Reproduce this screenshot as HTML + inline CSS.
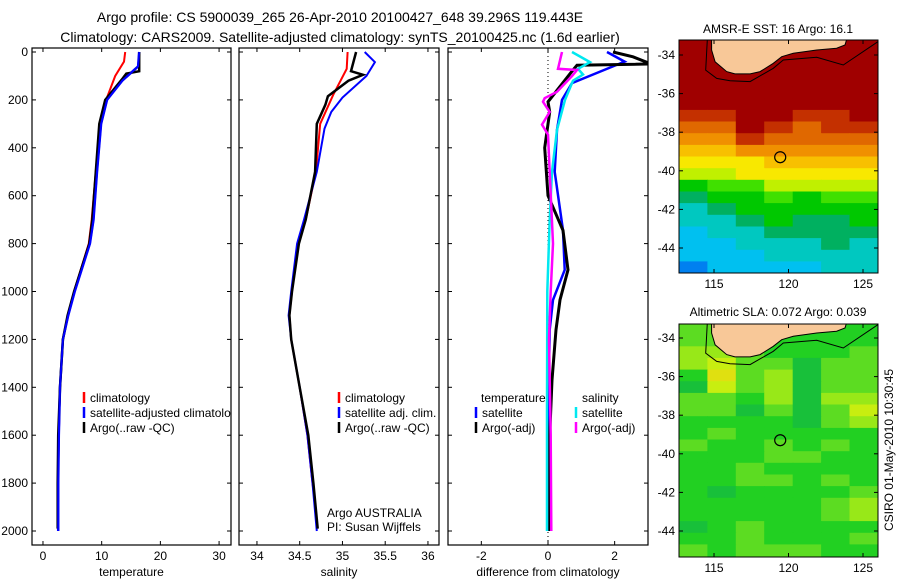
<!DOCTYPE html>
<html><head><meta charset="utf-8"><style>
html,body{margin:0;padding:0;background:#fff;}
svg{display:block;font-family:"Liberation Sans",sans-serif;}
</style></head><body>
<svg id="fig" width="900" height="580" viewBox="0 0 900 580">
<defs>
<clipPath id="c1"><rect x="32" y="48" width="199" height="497"/></clipPath>
<clipPath id="c2"><rect x="239" y="48" width="200" height="497"/></clipPath>
<clipPath id="c3"><rect x="448" y="48" width="200" height="497"/></clipPath>
<clipPath id="cm1"><rect x="679" y="40" width="199" height="233"/></clipPath>
<clipPath id="cm2"><rect x="679" y="324" width="199" height="233"/></clipPath>
</defs>
<text x="340" y="22" font-size="14" text-anchor="middle">Argo profile: CS 5900039_265 26-Apr-2010 20100427_648 39.296S 119.443E</text>
<text x="340" y="42" font-size="14" text-anchor="middle">Climatology: CARS2009. Satellite-adjusted climatology: synTS_20100425.nc (1.6d earlier)</text>
<text x="778" y="33" font-size="12" text-anchor="middle">AMSR-E SST: 16 Argo: 16.1</text>
<text x="778" y="316" font-size="12" text-anchor="middle">Altimetric SLA: 0.072 Argo: 0.039</text>
<text transform="translate(893,450) rotate(-90)" font-size="12" text-anchor="middle">CSIRO 01-May-2010 10:30:45</text>
<g id="g"></g>
</svg>
<script>
// ---------- data ----------
const depthTicks=[0,200,400,600,800,1000,1200,1400,1600,1800,2000];
const tempTicks=[0,10,20,30];
const salTicks=[34,34.5,35,35.5,36];
const salTickLabels=["34","34.5","35","35.5","36"];
const diffTicks=[-2,0,2];
const latTicks=[-34,-36,-38,-40,-42,-44];
const lonTicks=[115,120,125];

const tClimDepth=[0,40,100,190,300,500,700,800,1000,1100,1200,1400,1600,1800,1880];
const tClimVal=[14.0,13.8,12.3,10.9,9.7,9.0,8.3,7.8,5.3,4.3,3.4,2.9,2.7,2.6,2.6];
const tSatDepth=[0,60,80,120,200,300,500,700,800,1000,1100,1200,1400,1600,1800,2000];
const tSatVal=[16.4,16.2,15.3,13.5,10.9,9.9,9.2,8.6,8.0,5.4,4.3,3.4,2.9,2.7,2.6,2.6];
const tArgoDepth=[0,80,90,110,200,300,500,700,800,1000,1100,1200,1400,1600,1800,1990];
const tArgoVal=[16.4,16.4,14.2,13.6,10.6,9.6,9.0,8.4,7.9,5.3,4.2,3.4,2.9,2.6,2.5,2.5];

const sClimDepth=[0,70,180,300,500,700,800,1000,1100,1200,1400,1600,1800,1880];
const sClimVal=[35.06,35.05,34.89,34.74,34.69,34.57,34.48,34.41,34.38,34.40,34.5,34.59,34.65,34.68];
const sSatDepth=[0,42,100,190,250,320,500,700,800,1000,1100,1200,1400,1600,1800,2000];
const sSatVal=[35.26,35.38,35.28,35.0,34.87,34.79,34.70,34.55,34.47,34.40,34.37,34.40,34.5,34.59,34.65,34.70];
const sArgoDepth=[0,80,95,120,185,220,300,500,700,800,1000,1100,1200,1400,1600,1800,1990];
const sArgoVal=[35.16,35.1,35.24,35.07,34.83,34.80,34.70,34.68,34.57,34.49,34.41,34.38,34.40,34.5,34.6,34.66,34.71];

const dTSatDepth=[0,40,130,200,325,500,745,910,1035,1160,1400,1700,2000];
const dTSatVal=[1.77,2.3,0.72,0.42,0.27,0.2,0.45,0.5,0.15,0.05,0.02,0.02,0.02];
const dTArgoDepth=[0,20,50,55,75,208,250,400,600,745,910,1035,1160,1370,1600,2000];
const dTArgoVal=[1.95,2.55,3.1,0.87,0.75,0.0,0.05,-0.1,0.0,0.45,0.6,0.36,0.24,0.12,0.05,0.05];
const dSSatDepth=[0,42,70,94,120,200,325,500,700,1000,1500,2000];
const dSSatVal=[0.72,1.26,0.9,1.05,0.75,0.51,0.27,0.12,0.05,-0.02,-0.03,-0.03];
const dSArgoDepth=[0,70,75,100,166,193,208,250,303,345,500,800,1000,1200,1600,2000];
const dSArgoVal=[0.42,0.3,0.87,0.72,0.27,-0.1,-0.15,0.05,-0.18,0.0,0.05,0.15,0.08,0.03,0.08,0.1];

// SST grid (deg C), 20 rows (north->south) x 7 cols (west->east)
const sstGrid=[
[18,18,18,18,18,18,18],[18,18,18,18,18,18,18],[18,18,18,18,18,18,18],
[17.5,17.5,17.5,17.5,17.5,17.5,17.5],[17.2,17.5,17.5,17.5,17.5,17.5,17.5],
[17,17.2,17.5,17.3,17.2,17.2,17.2],[16.7,16.8,17.2,17.1,16.8,16.9,17],
[16.2,16.4,17,16.9,16.5,16.6,16.6],[15.9,16.1,16.8,16.3,16.2,16.4,16.3],
[15.6,15.7,15.9,15.8,15.9,16,15.9],[15.2,15.3,15.3,15.4,15.6,15.5,15.6],
[14.6,14.8,15,15.2,15.2,15.1,15.2],[14,14.2,14.4,14.8,14.6,14.8,14.7],
[13.6,13.8,14.1,14.2,14.0,14.3,14.5],[13.3,13.5,13.9,13.9,13.8,13.9,14],
[13.0,13.2,13.6,13.8,13.7,13.6,13.8],[12.8,13.0,13.3,13.5,13.5,13.6,13.5],
[12.7,12.8,13.0,13.2,13.3,13.4,13.3],[12.6,12.7,12.8,13.0,13.0,13.1,13.2],
[12.4,12.6,12.7,12.8,12.8,13.0,13.1]];
// SLA grid (class levels)
const slaGrid=[
[1,1,0,0,0,0,0],[1,1,0,0,0,0,0],[2,2,1,0,0,0,1],[2,3,1,1,-1,1,1],
[0,4,1,2,-1,1,1],[-1,3,1,2,-1,1,1],[1,1,0,2,-1,2,2],[1,1,-1,1,-1,1,3],
[0,0,0,0,-1,1,2],[0,1,0,0,0,0,0],[1,0,0,1,0,1,0],[0,0,0,1,1,0,0],
[0,0,1,0,0,0,0],[0,0,1,1,0,1,0],[0,-1,0,0,0,0,1],[0,0,0,0,0,1,2],
[0,0,0,0,0,1,2],[-1,0,1,0,0,0,0],[0,0,1,0,0,0,1],[1,0,1,1,1,0,0]];
const landLon=[114.84,114.84,115.07,115.85,116.41,117.42,118.09,118.98,119.54,120.32,121.89,123.23,123.79,123.9];
const landLat=[-33.2,-33.74,-34.35,-34.86,-34.98,-34.98,-34.86,-34.43,-34.09,-33.91,-33.74,-33.65,-33.48,-33.2];
const shelfLon=[114.55,114.44,115.18,116.07,117.42,118.98,119.65,121.89,123.68,126.0];
const shelfLat=[-33.22,-34.78,-35.21,-35.33,-35.38,-34.69,-34.26,-34.12,-34.52,-33.31];
const argoLon=119.443, argoLat=-39.296;

// ---------- scales ----------
const yD=d=>52+d*0.2395;
const xT=v=>32+(v+1.87)*5.87;
const xS=v=>239+(v-33.79)*85.5;
const xDf=v=>448+(v+3)*33.33;
const LON0=112.65, LON1=126.0, LAT0=-33.22, LAT1=-45.3;
const xLon=l=>679+(l-LON0)*14.9;
const yLat1=l=>55+(-34-l)*19.3;
const yLat2=l=>338+(-34-l)*19.3;

const NS="http://www.w3.org/2000/svg";
const G=document.getElementById('g');
function mk(tag,attrs,parent){const e=document.createElementNS(NS,tag);for(const k in attrs)e.setAttribute(k,attrs[k]);(parent||G).appendChild(e);return e;}
function txt(x,y,s,size,anchor,parent){const e=mk('text',{x:x,y:y,'font-size':size,'text-anchor':anchor||'start'},parent);e.textContent=s;return e;}

function line(xs,ds,xf,color,w,clip,name){
  const p=xs.map((v,i)=>xf(v).toFixed(1)+','+yD(ds[i]).toFixed(1)).join(' ');
  const e=mk('polyline',{points:p,fill:'none',stroke:color,'stroke-width':w,'stroke-linejoin':'miter','clip-path':'url(#'+clip+')'});
  
  
}

function panel(x0,w,ticks,labels,xf,xlabel,name,showDepth){
  const g=mk('g',{});
  
  
  mk('rect',{x:x0,y:48,width:w,height:497,fill:'#fff',stroke:'#000','stroke-width':1.2},g);
  depthTicks.forEach(d=>{
    mk('line',{x1:x0,x2:x0+4,y1:yD(d),y2:yD(d),stroke:'#000'},g);
    mk('line',{x1:x0+w-4,x2:x0+w,y1:yD(d),y2:yD(d),stroke:'#000'},g);
    if(showDepth){const t=txt(x0-4,yD(d)+4,String(d),12,'end',g);
      
      }
  });
  ticks.forEach((v,i)=>{
    const x=xf(v);
    mk('line',{x1:x,x2:x,y1:545,y2:541,stroke:'#000'},g);
    mk('line',{x1:x,x2:x,y1:48,y2:52,stroke:'#000'},g);
    const t=txt(x,560,labels[i],12,'middle',g);
    
    
  });
  const xl=txt(x0+w/2,576,xlabel,12,'middle',g);
  
  
}
panel(32,199,tempTicks,tempTicks.map(String),xT,'temperature','temperature-panel',true);
panel(239,200,salTicks,salTickLabels,xS,'salinity','salinity-panel',false);
panel(448,200,diffTicks,diffTicks.map(String),xDf,'difference from climatology','difference-panel',false);
mk('line',{x1:xDf(0),x2:xDf(0),y1:52,y2:545,stroke:'#000','stroke-dasharray':'1,3'});

line(tClimVal,tClimDepth,xT,'#ff0000',2,'c1','temp-climatology-line');
line(tSatVal,tSatDepth,xT,'#0000ff',2.5,'c1','temp-satellite-line');
line(tArgoVal,tArgoDepth,xT,'#000',2.5,'c1','temp-argo-line');
line(tSatVal,tSatDepth,xT,'#0000ff',2,'c1','temp-satellite-line-top');
line(sClimVal,sClimDepth,xS,'#ff0000',2,'c2','sal-climatology-line');
line(sSatVal,sSatDepth,xS,'#0000ff',2,'c2','sal-satellite-line');
line(sArgoVal,sArgoDepth,xS,'#000',2.5,'c2','sal-argo-line');
line(dTSatVal,dTSatDepth,xDf,'#0000ff',2.5,'c3','diff-temp-satellite-line');
line(dTArgoVal,dTArgoDepth,xDf,'#000',3,'c3','diff-temp-argo-line');
line(dSSatVal,dSSatDepth,xDf,'#00e8f0',2.5,'c3','diff-sal-satellite-line');
line(dSArgoVal,dSArgoDepth,xDf,'#ff00ff',2.5,'c3','diff-sal-argo-line');

function legend(x,y,label,color,clip){
  const g=mk('g',{'clip-path':clip?'url(#'+clip+')':''});
  
  
  if(color) mk('line',{x1:x-6,x2:x-6,y1:y-10,y2:y+1,stroke:color,'stroke-width':2.5},g);
  txt(x,y,label,12,'start',g);
}
legend(90,402,'climatology','#ff0000','c1');
legend(90,417,'satellite-adjusted climatology','#0000ff','c1');
legend(90,432,'Argo(..raw -QC)','#000','c1');
legend(345,402,'climatology','#ff0000','c2');
legend(345,417,'satellite adj. clim.','#0000ff','c2');
legend(345,432,'Argo(..raw -QC)','#000','c2');
legend(481,402,'temperature',null,'c3');
legend(482,417,'satellite','#0000ff','c3');
legend(482,432,'Argo(-adj)','#000','c3');
legend(582,402,'salinity',null,'c3');
legend(582,417,'satellite','#00e8f0','c3');
legend(582,432,'Argo(-adj)','#ff00ff','c3');
const a1=txt(327,517,'Argo AUSTRALIA',12,'start');


const a2=txt(327,531,'PI: Susan Wijffels',12,'start');



// ---------- maps ----------
function sstColor(v){
  const stops=[[17,'#a00000'],[16.6,'#c43000'],[16.2,'#e06800'],[15.8,'#f09000'],[15.4,'#f8c000'],[15.0,'#f8e800'],[14.6,'#c0f000'],[14.2,'#40e000'],[13.8,'#00c800'],[13.4,'#00b060'],[13.0,'#00c8c0'],[12.6,'#00c0f0']];
  for(const s of stops) if(v>=s[0]) return s[1];
  return '#0080f0';
}
const slaColors={'-1':'#18c03a','0':'#22d022','1':'#5cdc22','2':'#98e818','3':'#c8ee10','4':'#e0e010'};
function map(grid,colorFn,yLat,top,clip,name){
  const g=mk('g',{});
  
  
  const cw=(LON1-LON0)/7, rh=(LAT0-LAT1)/20;
  const cells=mk('g',{'clip-path':'url(#'+clip+')'},g);
  grid.forEach((row,r)=>row.forEach((v,c)=>{
    const x=xLon(LON0+c*cw), y=yLat(LAT0-r*rh);
    const e=mk('rect',{x:x.toFixed(1),y:y.toFixed(1),width:(cw*14.9+0.6).toFixed(1),height:(rh*19.3+0.6).toFixed(1),fill:colorFn(v)},cells);
    
    
  }));
  const lp=landLon.map((l,i)=>xLon(l).toFixed(1)+','+yLat(landLat[i]).toFixed(1)).join(' ');
  const land=mk('polygon',{points:lp+' '+xLon(123.9).toFixed(1)+','+(top-2)+' '+xLon(114.84).toFixed(1)+','+(top-2),fill:'#f8c898',stroke:'#000','stroke-width':1},cells);
  
  
  const sp=shelfLon.map((l,i)=>xLon(l).toFixed(1)+','+yLat(shelfLat[i]).toFixed(1)).join(' ');
  const sh=mk('polyline',{points:sp,fill:'none',stroke:'#000','stroke-width':1},cells);
  
  
  const ci=mk('circle',{cx:xLon(argoLon),cy:yLat(argoLat),r:5.5,fill:'none',stroke:'#000','stroke-width':1.2},g);
  
  
  mk('rect',{x:679,y:top,width:199,height:233,fill:'none',stroke:'#000','stroke-width':1},g);
  latTicks.forEach(l=>{
    const y=yLat(l);
    mk('line',{x1:679,x2:683,y1:y,y2:y,stroke:'#000'},g);
    mk('line',{x1:874,x2:878,y1:y,y2:y,stroke:'#000'},g);
    const t=txt(675,y+4,String(l),12,'end',g);
    
    
  });
  lonTicks.forEach(l=>{
    const x=xLon(l);
    mk('line',{x1:x,x2:x,y1:top+233,y2:top+229,stroke:'#000'},g);
    mk('line',{x1:x,x2:x,y1:top,y2:top+4,stroke:'#000'},g);
    const t=txt(x,top+248,String(l),12,'middle',g);
    
    
  });
}
map(sstGrid,sstColor,yLat1,40,'cm1','sst-map');
map(slaGrid,v=>slaColors[String(v)],yLat2,324,'cm2','sla-map');
</script>
</body></html>
